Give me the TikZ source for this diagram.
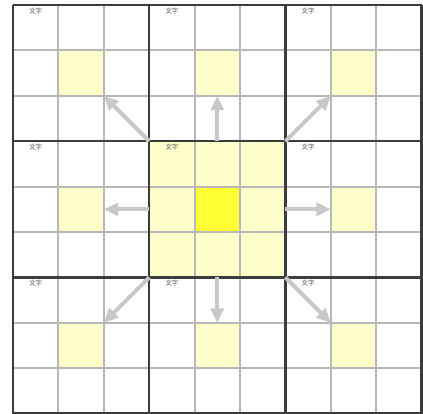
\documentclass[tikz,border=0pt]{standalone}
\usepackage{fontspec}
\newfontfamily\cjk{Noto Sans CJK JP}
\usetikzlibrary{arrows.meta}
\definecolor{paleyellow}{HTML}{FFFFCC}
\definecolor{hotyellow}{HTML}{FFFF33}
\definecolor{thingray}{HTML}{B8B8B8}
\definecolor{blockgray}{HTML}{3C3C3C}
\definecolor{arrowgray}{HTML}{C8C8C8}

\begin{document}
\begin{tikzpicture}[
        cornertext/.style = {font=\cjk\fontsize{4}{4}\selectfont, text=black!65, inner sep=0pt},
        spread/.style = {draw=arrowgray, line width=2.5pt, -{Triangle[length=9pt,width=8pt]}}
    ]
    \useasboundingbox (-0.286,0.11) rectangle (9.03,-9.0);
    % cells
    \fill[paleyellow] (3,-3) rectangle (6,-6);
    \fill[hotyellow] (4,-4) rectangle (5,-5);
    \foreach \c/\r in {1/1,4/1,7/1,1/4,7/4,1/7,4/7,7/7}
        \fill[paleyellow] (\c,-\r) rectangle ++(1,-1);
    % grid
    \draw[thingray, line width=1.2pt] (0,0) grid (9,-9);
    \draw[blockgray, line width=1.6pt, step=3] (0,0) grid (9,-9);
    % texts
    \foreach \c in {0,3,6}
        \foreach \r in {0,3,6}
            \node[cornertext] (txt\c\r) at (\c+0.5,-\r-0.13) {文字};
    % arrows
    \coordinate (nw) at (3,-3);
    \coordinate (n) at (4.5,-3);
    \coordinate (ne) at (6,-3);
    \coordinate (w) at (3,-4.5);
    \coordinate (e) at (6,-4.5);
    \coordinate (sw) at (3,-6);
    \coordinate (s) at (4.5,-6);
    \coordinate (se) at (6,-6);
    \coordinate (to nw) at (2,-2);
    \coordinate (to n) at (4.5,-2);
    \coordinate (to ne) at (7,-2);
    \coordinate (to w) at (2,-4.5);
    \coordinate (to e) at (7,-4.5);
    \coordinate (to sw) at (2,-7);
    \coordinate (to s) at (4.5,-7);
    \coordinate (to se) at (7,-7);
    \draw[spread] (nw) -- (to nw);
    \draw[spread] (n) -- (to n);
    \draw[spread] (ne) -- (to ne);
    \draw[spread] (w) -- (to w);
    \draw[spread] (e) -- (to e);
    \draw[spread] (sw) -- (to sw);
    \draw[spread] (s) -- (to s);
    \draw[spread] (se) -- (to se);
\end{tikzpicture}
\end{document}
